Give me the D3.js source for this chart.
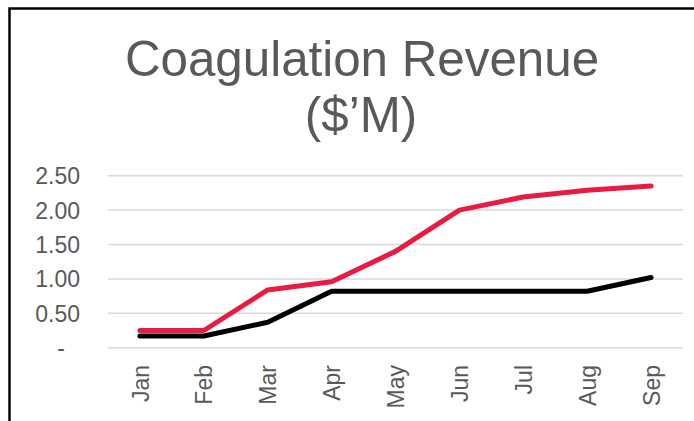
<!DOCTYPE html>
<html><head><meta charset="utf-8">
<script src="https://cdn.jsdelivr.net/npm/d3@7"></script>
<style>html,body{margin:0;padding:0;background:#fff;}svg{display:block;}</style>
</head><body>
<script>
const months = ["Jan","Feb","Mar","Apr","May","Jun","Jul","Aug","Sep"];
const redSeries = [0.25,0.25,0.84,0.96,1.40,2.00,2.19,2.29,2.35];
const blackSeries = [0.17,0.17,0.37,0.82,0.82,0.82,0.82,0.82,1.02];
const yTicks = [0,0.5,1.0,1.5,2.0,2.5];
const titleLines = ["Coagulation Revenue","($\u2019M)"];

const W=694,H=421;
const svg=d3.select("body").append("svg").attr("width",W).attr("height",H);
svg.append("rect").attr("x",0).attr("y",0).attr("width",W).attr("height",H).attr("fill","#fff");
svg.append("rect").attr("x",9.5).attr("y",8.5).attr("width",W+20).attr("height",H+20)
  .attr("fill","none").attr("stroke","#000").attr("stroke-width",2.5);

const font="Liberation Sans, Arial, sans-serif";
svg.append("text").attr("x",362).attr("y",76).attr("text-anchor","middle")
  .attr("font-family",font).attr("font-size",49.3).attr("fill","#595959").text(titleLines[0]);
svg.append("text").attr("x",361).attr("y",131.5).attr("text-anchor","middle")
  .attr("font-family",font).attr("font-size",49.3).attr("fill","#595959").text(titleLines[1]);

const x=d3.scalePoint().domain(months).range([108,683]).padding(0.5);
const y=d3.scaleLinear().domain([0,2.5]).range([347.7,175.7]);

const grid=svg.append("g");
grid.selectAll("line").data(yTicks).join("line")
  .attr("x1",108).attr("x2",683).attr("y1",d=>y(d)).attr("y2",d=>y(d))
  .attr("stroke","#D9D9D9").attr("stroke-width",1.5);

const yAxis=d3.axisLeft(y).tickValues(yTicks).tickSize(0).tickPadding(0)
  .tickFormat(d=>d===0?"-":d.toFixed(2));
const ya=svg.append("g").attr("transform","translate(80,0)").call(yAxis);
ya.select(".domain").remove();
ya.selectAll("text").attr("font-family",font).attr("font-size",23).attr("fill","#595959")
  .attr("dy","0.35em").attr("x",d=>d===0?-15:0);

const xAxis=d3.axisBottom(x).tickSize(0).tickPadding(0);
const xa=svg.append("g").attr("transform","translate(0,365)").call(xAxis);
xa.select(".domain").remove();
xa.selectAll("text").attr("font-family",font).attr("font-size",23).attr("fill","#595959")
  .attr("text-anchor","end").attr("y",0).attr("x",0).attr("dy","0.35em")
  .attr("transform","rotate(-90)");

const line=d3.line().x((d,i)=>x(months[i])).y(d=>y(d));
svg.append("path").datum(blackSeries).attr("d",line).attr("fill","none")
  .attr("stroke","#000").attr("stroke-width",5).attr("stroke-linecap","round").attr("stroke-linejoin","round");
svg.append("path").datum(redSeries).attr("d",line).attr("fill","none")
  .attr("stroke","#EA1A40").attr("stroke-width",5).attr("stroke-linecap","round").attr("stroke-linejoin","round");
</script>
</body></html>
